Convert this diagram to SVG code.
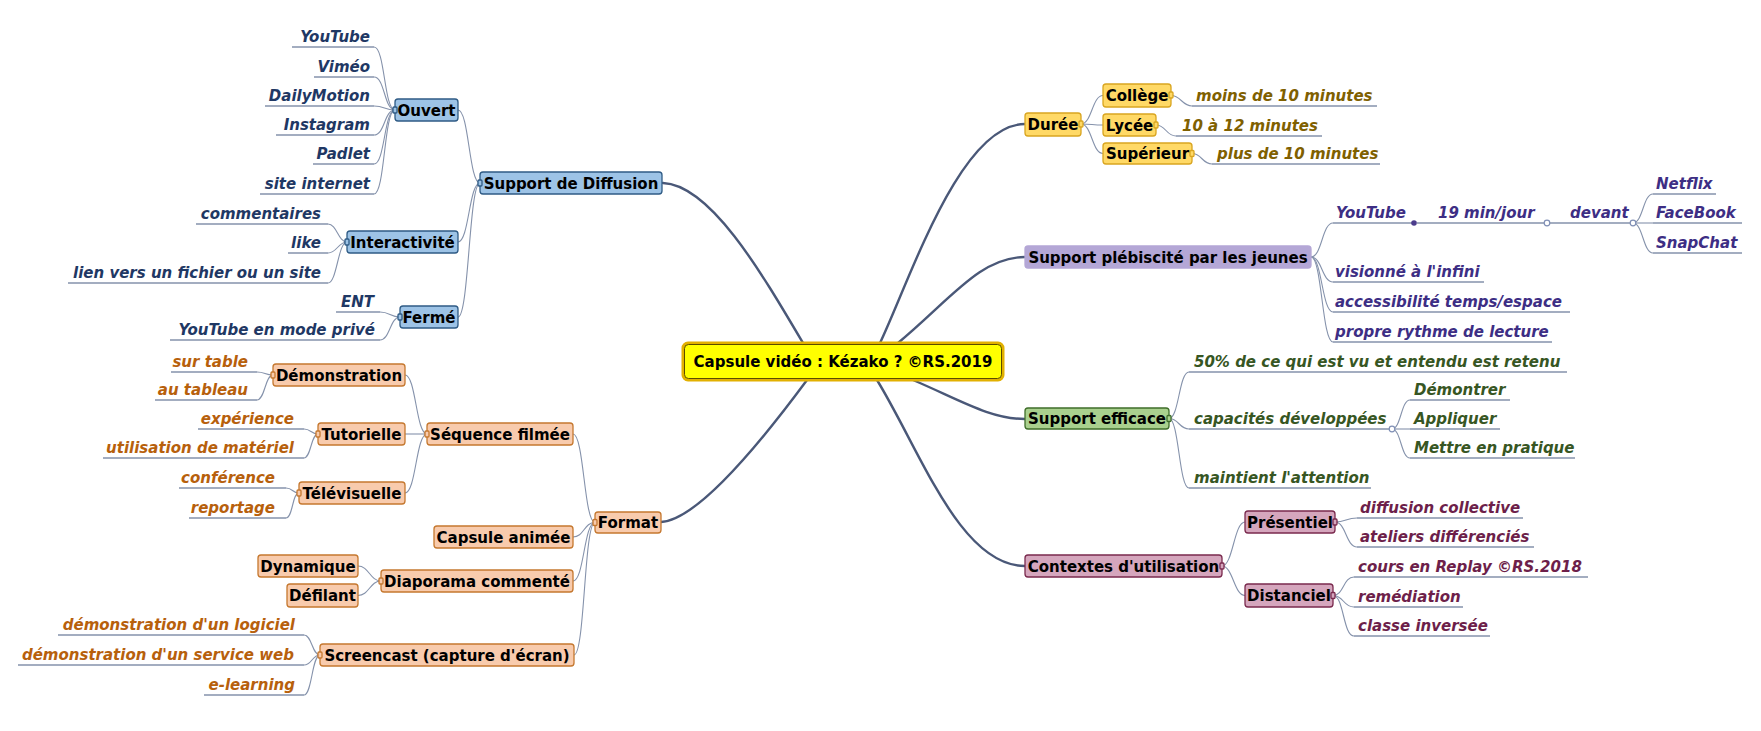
<svg xmlns="http://www.w3.org/2000/svg" width="1761" height="731" viewBox="0 0 1761 731">
<style>
text{font-family:"DejaVu Sans","Verdana",sans-serif;font-weight:bold;font-size:15px}
.n{text-anchor:middle;fill:#000}
.l{font-style:italic}
.r{text-anchor:end}
.main{fill:none;stroke:#4a5878;stroke-width:2.4;stroke-linecap:round}
.c{fill:none;stroke:#8592ab;stroke-width:1.1}
.u{fill:none;stroke:#8592ab;stroke-width:1.3}
.blue rect{fill:#9dc3e6;stroke:#2f5b85;stroke-width:1.3}
.gold rect{fill:#ffd966;stroke:#d9a520;stroke-width:1.3}
.purp rect{fill:#b4a7d6;stroke:#b4a7d6;stroke-width:1.3}
.green rect{fill:#a9d08e;stroke:#3f6e2a;stroke-width:1.3}
.pink rect{fill:#d5a6bd;stroke:#7a2a4e;stroke-width:1.3}
.orng rect{fill:#f8cbad;stroke:#c5782f;stroke-width:1.3}
.tb{fill:#1f3864}.tg{fill:#7f6000}.tp{fill:#3d2e84}.tgr{fill:#375623}.tk{fill:#6d1f4a}.to{fill:#b7600c}
.dot{fill:#fff;stroke:#7f8fb5;stroke-width:1.2}
</style>

<g id="connectors">
  <!-- main branches -->
  <path class="main" d="M663,183 C710,185 760,270 803,343"/>
  <path class="main" d="M661,522 C700,520 770,430 807,380"/>
  <path class="main" d="M880,343 C910,280 960,124 1025,124"/>
  <path class="main" d="M898,343 C950,300 980,257 1025,257"/>
  <path class="main" d="M913,380 C960,400 990,419 1025,419"/>
  <path class="main" d="M877,380 C920,450 960,566 1025,566"/>
  <!-- blue -->
  <path class="c" d="M458,110 C469,110 469,183 480,183"/>
  <path class="c" d="M458,242 C469,242 469,183 480,183"/>
  <path class="c" d="M458,317 C469,317 469,183 480,183"/>
  <path class="c" d="M374,47 C385,47 384,110 395,110"/>
  <path class="c" d="M374,77 C385,77 384,110 395,110"/>
  <path class="c" d="M374,106 C385,106 384,110 395,110"/>
  <path class="c" d="M374,135 C385,135 384,110 395,110"/>
  <path class="c" d="M374,164 C385,164 384,110 395,110"/>
  <path class="c" d="M374,194 C385,194 384,110 395,110"/>
  <path class="c" d="M328,224 C337,224 338,242 347,242"/>
  <path class="c" d="M328,253 C337,253 338,242 347,242"/>
  <path class="c" d="M328,283 C337,283 338,242 347,242"/>
  <path class="c" d="M380,312 C390,312 390,317 400,317"/>
  <path class="c" d="M380,340 C390,340 390,317 400,317"/>
  <!-- gold -->
  <path class="c" d="M1081,124 C1092,124 1092,95.5 1103,95.5"/>
  <path class="c" d="M1081,124 C1092,124 1092,125 1103,125"/>
  <path class="c" d="M1081,124 C1092,124 1092,153.5 1103,153.5"/>
  <path class="c" d="M1171,95.5 C1181,95.5 1182,106 1192,106"/>
  <path class="c" d="M1156,125 C1166,125 1166,136 1176,136"/>
  <path class="c" d="M1192,153.5 C1202,153.5 1202,164 1212,164"/>
  <!-- purple -->
  <path class="c" d="M1311,257 C1322,257 1322,223 1333,223"/>
  <path class="c" d="M1311,257 C1322,257 1322,282 1333,282"/>
  <path class="c" d="M1311,257 C1322,257 1322,312 1333,312"/>
  <path class="c" d="M1311,257 C1322,257 1322,342 1333,342"/>
  <path class="c" d="M1633,223 C1643,223 1643,194 1653,194"/>
  <path class="c" d="M1633,223 L1653,223"/>
  <path class="c" d="M1633,223 C1643,223 1643,253 1653,253"/>
  <!-- green -->
  <path class="c" d="M1169,418.5 C1179,418.5 1179,372 1189,372"/>
  <path class="c" d="M1169,418.5 C1179,418.5 1179,429 1189,429"/>
  <path class="c" d="M1169,418.5 C1179,418.5 1179,488 1189,488"/>
  <path class="c" d="M1392,429 C1401,429 1401,400 1410,400"/>
  <path class="c" d="M1392,429 L1410,429"/>
  <path class="c" d="M1392,429 C1401,429 1401,458 1410,458"/>
  <!-- pink -->
  <path class="c" d="M1222,566 C1233,566 1234,522 1245,522"/>
  <path class="c" d="M1222,566 C1233,566 1234,595.5 1245,595.5"/>
  <path class="c" d="M1335,522 C1346,522 1346,518 1357,518"/>
  <path class="c" d="M1335,522 C1346,522 1346,547 1357,547"/>
  <path class="c" d="M1333,595.5 C1344,595.5 1343,577 1354,577"/>
  <path class="c" d="M1333,595.5 C1344,595.5 1343,607 1354,607"/>
  <path class="c" d="M1333,595.5 C1344,595.5 1343,636 1354,636"/>
  <!-- orange -->
  <path class="c" d="M595,522.5 C584,522.5 584,434 573,434"/>
  <path class="c" d="M595,522.5 C584,522.5 584,537 573,537"/>
  <path class="c" d="M595,522.5 C584,522.5 584,581 573,581"/>
  <path class="c" d="M595,522.5 C584,522.5 585,655 574,655"/>
  <path class="c" d="M427,434 C416,434 416,375 405,375"/>
  <path class="c" d="M427,434 L405,434"/>
  <path class="c" d="M427,434 C416,434 416,493 405,493"/>
  <path class="c" d="M381,581 C370,581 369,566 358,566"/>
  <path class="c" d="M381,581 C370,581 369,595.5 358,595.5"/>
  <path class="c" d="M273,375 C265,375 265,372 257,372"/>
  <path class="c" d="M273,375 C265,375 265,400 257,400"/>
  <path class="c" d="M318,434 C311,434 311,429 304,429"/>
  <path class="c" d="M318,434 C311,434 311,458 304,458"/>
  <path class="c" d="M299,493 C292,493 293,488 286,488"/>
  <path class="c" d="M299,493 C292,493 293,518 286,518"/>
  <path class="c" d="M320,655 C312,655 312,635 304,635"/>
  <path class="c" d="M320,655 C312,655 312,665 304,665"/>
  <path class="c" d="M320,655 C312,655 312,695 304,695"/>
</g>

<!-- central -->
<g id="center">
  <rect x="683" y="343" width="320" height="37" rx="5" fill="#ffff00" stroke="#e2b000" stroke-width="3"/>
  <rect x="684.5" y="344.5" width="317" height="34" rx="4" fill="none" stroke="#5a4a00" stroke-width="1"/>
  <text class="n" x="843" y="367">Capsule vidéo : Kézako ? ©RS.2019</text>
</g>

<!-- BLUE -->
<g id="n-sdd" class="blue"><rect x="480" y="172" width="182" height="22" rx="3"/><rect x="478" y="180" width="4" height="6" rx="1"/><text class="n" x="571" y="188.5">Support de Diffusion</text></g>
<g id="n-ouvert" class="blue"><rect x="395" y="99" width="63" height="22" rx="3"/><rect x="393" y="107" width="4" height="6" rx="1"/><text class="n" x="426.5" y="115.5">Ouvert</text></g>
<g id="n-interactivite" class="blue"><rect x="347" y="231" width="111" height="22" rx="3"/><rect x="345" y="239" width="4" height="6" rx="1"/><text class="n" x="402.5" y="247.5">Interactivité</text></g>
<g id="n-ferme" class="blue"><rect x="400" y="306" width="58" height="22" rx="3"/><rect x="398" y="314" width="4" height="6" rx="1"/><text class="n" x="429" y="322.5">Fermé</text></g>
<g id="l-youtube1"><path class="u" d="M292,47H374"/><text class="l r tb" x="370" y="42">YouTube</text></g>
<g id="l-vimeo"><path class="u" d="M314,77H374"/><text class="l r tb" x="370" y="72">Viméo</text></g>
<g id="l-dailymotion"><path class="u" d="M265,106H374"/><text class="l r tb" x="370" y="101">DailyMotion</text></g>
<g id="l-instagram"><path class="u" d="M276,135H374"/><text class="l r tb" x="370" y="130">Instagram</text></g>
<g id="l-padlet"><path class="u" d="M313,164H374"/><text class="l r tb" x="370" y="159">Padlet</text></g>
<g id="l-site"><path class="u" d="M260,194H374"/><text class="l r tb" x="370" y="189">site internet</text></g>
<g id="l-commentaires"><path class="u" d="M196,224H328"/><text class="l r tb" x="321" y="219">commentaires</text></g>
<g id="l-like"><path class="u" d="M288,253H328"/><text class="l r tb" x="321" y="248">like</text></g>
<g id="l-lien"><path class="u" d="M68,283H328"/><text class="l r tb" x="321" y="278">lien vers un fichier ou un site</text></g>
<g id="l-ent"><path class="u" d="M336,312H380"/><text class="l r tb" x="374" y="307">ENT</text></g>
<g id="l-ytprive"><path class="u" d="M170,340H380"/><text class="l r tb" x="375" y="335">YouTube en mode privé</text></g>

<!-- GOLD -->
<g id="n-duree" class="gold"><rect x="1025" y="113" width="56" height="23" rx="3"/><rect x="1079" y="121" width="4" height="6" rx="1"/><text class="n" x="1053" y="130">Durée</text></g>
<g id="n-college" class="gold"><rect x="1103" y="84" width="68" height="23" rx="3"/><rect x="1169" y="92" width="4" height="6" rx="1"/><text class="n" x="1137" y="101">Collège</text></g>
<g id="n-lycee" class="gold"><rect x="1103" y="114" width="53" height="22" rx="3"/><rect x="1154" y="122" width="4" height="6" rx="1"/><text class="n" x="1129.5" y="130.5">Lycée</text></g>
<g id="n-superieur" class="gold"><rect x="1103" y="143" width="89" height="21" rx="3"/><rect x="1190" y="150.5" width="4" height="6" rx="1"/><text class="n" x="1147.5" y="159">Supérieur</text></g>
<g id="l-moins"><path class="u" d="M1192,106H1377"/><text class="l tg" x="1196" y="101">moins de 10 minutes</text></g>
<g id="l-10a12"><path class="u" d="M1176,136H1322"/><text class="l tg" x="1182" y="131">10 à 12 minutes</text></g>
<g id="l-plus"><path class="u" d="M1212,164H1380"/><text class="l tg" x="1217" y="159">plus de 10 minutes</text></g>

<!-- PURPLE -->
<g id="n-plebiscite" class="purp"><rect x="1025" y="246" width="286" height="22" rx="3"/><text class="n" x="1168" y="262.5">Support plébiscité par les jeunes</text></g>
<g id="l-youtube2"><path class="u" d="M1333,223H1414"/><circle cx="1414" cy="223" r="2.8" fill="#4b3c8c"/><text class="l tp" x="1336" y="218">YouTube</text></g>
<g id="l-19min"><path class="u" d="M1417,223H1547"/><circle class="dot" cx="1547" cy="223" r="2.8"/><text class="l tp" x="1438" y="218">19 min/jour</text></g>
<g id="l-devant"><path class="u" d="M1550,223H1630"/><circle class="dot" cx="1633" cy="223" r="2.8"/><text class="l tp" x="1570" y="218">devant</text></g>
<g id="l-netflix"><path class="u" d="M1653,194H1716"/><text class="l tp" x="1656" y="189">Netflix</text></g>
<g id="l-facebook"><path class="u" d="M1653,223H1742"/><text class="l tp" x="1656" y="218">FaceBook</text></g>
<g id="l-snapchat"><path class="u" d="M1653,253H1742"/><text class="l tp" x="1656" y="248">SnapChat</text></g>
<g id="l-visionne"><path class="u" d="M1333,282H1484"/><text class="l tp" x="1335" y="277">visionné à l'infini</text></g>
<g id="l-access"><path class="u" d="M1333,312H1570"/><text class="l tp" x="1335" y="307">accessibilité temps/espace</text></g>
<g id="l-rythme"><path class="u" d="M1333,342H1552"/><text class="l tp" x="1335" y="337">propre rythme de lecture</text></g>

<!-- GREEN -->
<g id="n-efficace" class="green"><rect x="1025" y="408" width="144" height="21" rx="3"/><rect x="1167" y="415.5" width="4" height="6" rx="1"/><text class="n" x="1097" y="424">Support efficace</text></g>
<g id="l-50"><path class="u" d="M1189,372H1567"/><text class="l tgr" x="1194" y="367">50% de ce qui est vu et entendu est retenu</text></g>
<g id="l-capacites"><path class="u" d="M1189,429H1389"/><circle class="dot" cx="1392" cy="429" r="2.8"/><text class="l tgr" x="1194" y="424">capacités développées</text></g>
<g id="l-demontrer"><path class="u" d="M1410,400H1510"/><text class="l tgr" x="1414" y="395">Démontrer</text></g>
<g id="l-appliquer"><path class="u" d="M1410,429H1500"/><text class="l tgr" x="1414" y="424">Appliquer</text></g>
<g id="l-mettre"><path class="u" d="M1410,458H1575"/><text class="l tgr" x="1414" y="453">Mettre en pratique</text></g>
<g id="l-maintient"><path class="u" d="M1189,488H1371"/><text class="l tgr" x="1194" y="483">maintient l'attention</text></g>

<!-- PINK -->
<g id="n-contextes" class="pink"><rect x="1025" y="555" width="197" height="22" rx="3"/><rect x="1220" y="563" width="4" height="6" rx="1"/><text class="n" x="1123.5" y="571.5">Contextes d'utilisation</text></g>
<g id="n-presentiel" class="pink"><rect x="1245" y="511" width="90" height="22" rx="3"/><rect x="1333" y="519" width="4" height="6" rx="1"/><text class="n" x="1290" y="527.5">Présentiel</text></g>
<g id="n-distanciel" class="pink"><rect x="1245" y="584" width="88" height="23" rx="3"/><rect x="1331" y="592.5" width="4" height="6" rx="1"/><text class="n" x="1289" y="601">Distanciel</text></g>
<g id="l-diffusion"><path class="u" d="M1357,518H1523"/><text class="l tk" x="1360" y="513">diffusion collective</text></g>
<g id="l-ateliers"><path class="u" d="M1357,547H1534"/><text class="l tk" x="1360" y="542">ateliers différenciés</text></g>
<g id="l-replay"><path class="u" d="M1354,577H1588"/><text class="l tk" x="1358" y="572">cours en Replay ©RS.2018</text></g>
<g id="l-remediation"><path class="u" d="M1354,607H1463"/><text class="l tk" x="1358" y="602">remédiation</text></g>
<g id="l-classe"><path class="u" d="M1354,636H1490"/><text class="l tk" x="1358" y="631">classe inversée</text></g>

<!-- ORANGE -->
<g id="n-format" class="orng"><rect x="595" y="512" width="66" height="21" rx="3"/><rect x="593" y="519.5" width="4" height="6" rx="1"/><text class="n" x="628" y="528">Format</text></g>
<g id="n-sequence" class="orng"><rect x="427" y="423" width="146" height="22" rx="3"/><rect x="425" y="431" width="4" height="6" rx="1"/><text class="n" x="500" y="439.5">Séquence filmée</text></g>
<g id="n-demonstration" class="orng"><rect x="273" y="364" width="132" height="22" rx="3"/><rect x="271" y="372" width="4" height="6" rx="1"/><text class="n" x="339" y="380.5">Démonstration</text></g>
<g id="n-tutorielle" class="orng"><rect x="318" y="423" width="87" height="22" rx="3"/><rect x="316" y="431" width="4" height="6" rx="1"/><text class="n" x="361.5" y="439.5">Tutorielle</text></g>
<g id="n-televisuelle" class="orng"><rect x="299" y="482" width="106" height="22" rx="3"/><rect x="297" y="490" width="4" height="6" rx="1"/><text class="n" x="352" y="498.5">Télévisuelle</text></g>
<g id="n-capsule" class="orng"><rect x="434" y="526" width="139" height="22" rx="3"/><text class="n" x="503.5" y="542.5">Capsule animée</text></g>
<g id="n-diaporama" class="orng"><rect x="381" y="570" width="192" height="22" rx="3"/><rect x="379" y="578" width="4" height="6" rx="1"/><text class="n" x="477" y="586.5">Diaporama commenté</text></g>
<g id="n-dynamique" class="orng"><rect x="258" y="555" width="100" height="22" rx="3"/><text class="n" x="308" y="571.5">Dynamique</text></g>
<g id="n-defilant" class="orng"><rect x="287" y="584" width="71" height="23" rx="3"/><text class="n" x="322.5" y="601">Défilant</text></g>
<g id="n-screencast" class="orng"><rect x="320" y="644" width="254" height="22" rx="3"/><rect x="318" y="652" width="4" height="6" rx="1"/><text class="n" x="447" y="660.5">Screencast (capture d'écran)</text></g>
<g id="l-surtable"><path class="u" d="M171,372H257"/><text class="l r to" x="248" y="367">sur table</text></g>
<g id="l-autableau"><path class="u" d="M155,400H257"/><text class="l r to" x="248" y="395">au tableau</text></g>
<g id="l-experience"><path class="u" d="M198,429H304"/><text class="l r to" x="294" y="424">expérience</text></g>
<g id="l-utilisation"><path class="u" d="M103,458H304"/><text class="l r to" x="294" y="453">utilisation de matériel</text></g>
<g id="l-conference"><path class="u" d="M179,488H286"/><text class="l r to" x="275" y="483">conférence</text></g>
<g id="l-reportage"><path class="u" d="M189,518H286"/><text class="l r to" x="275" y="513">reportage</text></g>
<g id="l-logiciel"><path class="u" d="M58,635H304"/><text class="l r to" x="295" y="630">démonstration d'un logiciel</text></g>
<g id="l-serviceweb"><path class="u" d="M18,665H304"/><text class="l r to" x="294" y="660">démonstration d'un service web</text></g>
<g id="l-elearning"><path class="u" d="M204,695H304"/><text class="l r to" x="295" y="690">e-learning</text></g>
</svg>
